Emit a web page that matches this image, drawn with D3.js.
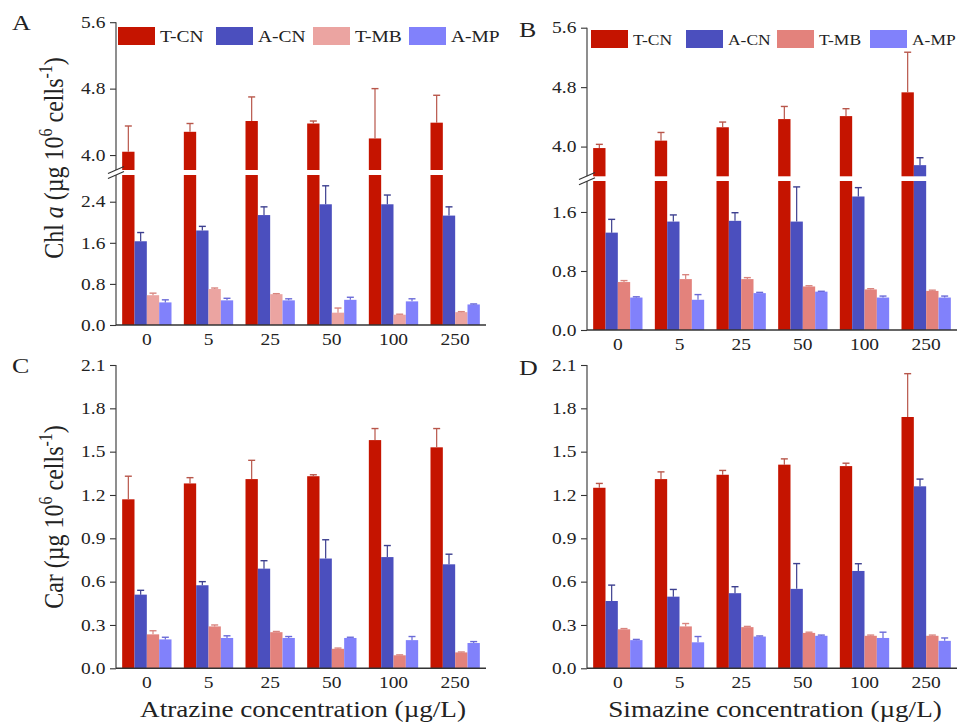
<!DOCTYPE html>
<html>
<head>
<meta charset="utf-8">
<script src="https://cdn.jsdelivr.net/npm/d3@7"></script>
<style>
  body { margin: 0; background: #fff; }
  svg text { font-family: "Liberation Serif", "Times New Roman", serif; fill: #222; }
</style>
</head>
<body>
<svg id="chart" width="959" height="727"></svg>
<script>
// categories and series
var categories = ["0", "5", "25", "50", "100", "250"];
var seriesNames = ["T-CN", "A-CN", "T-MB", "A-MP"];

// Chl a, atrazine (panel A) - rows follow seriesNames
var chlAtrazineMean = [
  [4.04, 4.28, 4.41, 4.38, 4.20, 4.39],
  [1.63, 1.84, 2.14, 2.35, 2.35, 2.13],
  [0.58, 0.70, 0.60, 0.24, 0.20, 0.25],
  [0.44, 0.48, 0.48, 0.49, 0.46, 0.40]
];
var chlAtrazineErr = [
  [0.31, 0.10, 0.29, 0.03, 0.60, 0.33],
  [0.17, 0.08, 0.16, 0.36, 0.18, 0.17],
  [0.04, 0.02, 0.01, 0.09, 0.01, 0.01],
  [0.05, 0.04, 0.03, 0.05, 0.05, 0.01]
];

// Chl a, simazine (panel B)
var chlSimazineMean = [
  [3.98, 4.08, 4.26, 4.37, 4.41, 4.73],
  [1.32, 1.47, 1.48, 1.47, 1.81, 3.75],
  [0.65, 0.69, 0.69, 0.59, 0.55, 0.53],
  [0.44, 0.41, 0.50, 0.52, 0.44, 0.44]
];
var chlSimazineErr = [
  [0.05, 0.11, 0.07, 0.17, 0.10, 0.54],
  [0.18, 0.09, 0.11, 0.47, 0.12, 0.10],
  [0.02, 0.06, 0.02, 0.01, 0.01, 0.01],
  [0.01, 0.07, 0.01, 0.005, 0.02, 0.02]
];

// Car, atrazine (panel C)
var carAtrazineMean = [
  [1.17, 1.28, 1.31, 1.33, 1.58, 1.53],
  [0.51, 0.575, 0.69, 0.76, 0.77, 0.72],
  [0.235, 0.29, 0.25, 0.135, 0.09, 0.11],
  [0.20, 0.21, 0.21, 0.21, 0.195, 0.175]
];
var carAtrazineErr = [
  [0.16, 0.04, 0.13, 0.01, 0.08, 0.13],
  [0.03, 0.025, 0.055, 0.13, 0.08, 0.07],
  [0.025, 0.01, 0.005, 0.005, 0.003, 0.003],
  [0.015, 0.015, 0.01, 0.005, 0.025, 0.01]
];

// Car, simazine (panel D)
var carSimazineMean = [
  [1.25, 1.31, 1.34, 1.41, 1.40, 1.74],
  [0.466, 0.496, 0.52, 0.55, 0.674, 1.26],
  [0.27, 0.29, 0.285, 0.245, 0.225, 0.225],
  [0.195, 0.18, 0.22, 0.225, 0.21, 0.19]
];
var carSimazineErr = [
  [0.03, 0.05, 0.03, 0.04, 0.02, 0.30],
  [0.11, 0.05, 0.045, 0.175, 0.05, 0.05],
  [0.005, 0.02, 0.005, 0.005, 0.005, 0.005],
  [0.005, 0.04, 0.004, 0.005, 0.04, 0.02]
];

// tick labels
var chlAtrazineLowTicks = [0, 0.8, 1.6, 2.4];
var chlSimazineLowTicks = [0, 0.8, 1.6];
var chlHighTicks = [4.0, 4.8, 5.6];
var carTicks = [0, 0.3, 0.6, 0.9, 1.2, 1.5, 1.8, 2.1];

var colorsA = ["#c51400", "#4b4fbe", "#eba4a1", "#8181fb"];
var colorsB = ["#c51400", "#4b4fbe", "#e3827c", "#8181fb"];
var errColors = ["#b8564a", "#3c3f8f", "#d9857f", "#6a6ad8"];

// the original figure is a bit wider than tall, so text is stretched sideways
var SX = 1.18;

var svg = d3.select("#chart");
svg.append("rect").attr("width", 959).attr("height", 727).attr("fill", "#fff");

function wideText(parent, x, y, size) {
  return parent.append("text")
    .attr("transform", "translate(" + x + "," + y + ") scale(" + SX + ",1)")
    .style("font-size", size + "px");
}

function drawPanel(cfg) {
  var g = svg.append("g");
  var x0 = d3.scaleBand().domain(categories).range(cfg.xRange)
    .paddingInner(0.2).paddingOuter(0.1);
  var x1 = d3.scaleBand().domain(seriesNames).range([0, x0.bandwidth()]);

  var low = d3.scaleLinear().domain(cfg.lowDomain).range(cfg.lowRange);
  var high = cfg.highDomain ? d3.scaleLinear().domain(cfg.highDomain).range(cfg.highRange) : null;
  var axisX = cfg.xRange[0];

  // bars
  seriesNames.forEach(function(s, si) {
    var means = cfg.mean[si], errs = cfg.err[si];
    categories.forEach(function(c, ci) {
      var v = means[ci], e = errs[ci];
      var bx = x0(c) + x1(s), bw = x1.bandwidth();
      var topY, eY;
      if (high && v > cfg.highDomain[0]) {
        g.append("rect").attr("x", bx).attr("width", bw)
          .attr("y", low(cfg.lowDomain[1])).attr("height", low(0) - low(cfg.lowDomain[1]))
          .attr("fill", cfg.colors[si]);
        g.append("rect").attr("x", bx).attr("width", bw)
          .attr("y", high(v)).attr("height", high(cfg.highDomain[0]) - high(v))
          .attr("fill", cfg.colors[si]);
        topY = high(v);
        eY = high(v + e);
      } else {
        g.append("rect").attr("x", bx).attr("width", bw)
          .attr("y", low(v)).attr("height", low(0) - low(v))
          .attr("fill", cfg.colors[si]);
        topY = low(v);
        eY = low(v + e);
      }
      var cx = bx + bw / 2;
      g.append("line").attr("x1", cx).attr("x2", cx).attr("y1", topY).attr("y2", eY)
        .attr("stroke", errColors[si]).attr("stroke-width", 1.2);
      g.append("line").attr("x1", cx - 3.5).attr("x2", cx + 3.5).attr("y1", eY).attr("y2", eY)
        .attr("stroke", errColors[si]).attr("stroke-width", 1.4);
    });
  });

  // y axes
  g.append("g").attr("transform", "translate(" + axisX + ",0)")
    .call(d3.axisLeft(low).tickValues(cfg.lowTicks).tickFormat(d3.format(".1f")).tickSize(6).tickPadding(3));
  if (high) {
    g.append("g").attr("transform", "translate(" + axisX + ",0)")
      .call(d3.axisLeft(high).tickValues(chlHighTicks).tickFormat(d3.format(".1f")).tickSize(6).tickPadding(3));
  }
  g.selectAll(".domain").remove();
  g.selectAll(".tick line").attr("stroke", "#333").attr("stroke-width", 1.1);
  g.selectAll(".tick text").style("font-size", "16.5px").style("font-family", "Liberation Serif")
    .attr("fill", "#222").attr("transform", "scale(" + SX + ",1)");

  // axis lines
  if (high) {
    g.append("line").attr("x1", axisX).attr("x2", axisX).attr("y1", cfg.lowRange[0]).attr("y2", cfg.lowRange[1])
      .attr("stroke", "#444").attr("stroke-width", 1.2);
    g.append("line").attr("x1", axisX).attr("x2", axisX).attr("y1", cfg.highRange[0]).attr("y2", cfg.highRange[1])
      .attr("stroke", "#444").attr("stroke-width", 1.2);
    var gy = (cfg.highRange[0] + cfg.lowRange[1]) / 2;
    [-2.6, 2.6].forEach(function(o) {
      g.append("line").attr("x1", axisX - 8).attr("y1", gy + o + 3.5)
        .attr("x2", axisX + 8).attr("y2", gy + o - 3.5)
        .attr("stroke", "#333").attr("stroke-width", 1.1);
    });
  } else {
    g.append("line").attr("x1", axisX).attr("x2", axisX).attr("y1", cfg.lowRange[0]).attr("y2", cfg.lowRange[1])
      .attr("stroke", "#444").attr("stroke-width", 1.2);
  }

  // x axis
  var xa = g.append("g").attr("transform", "translate(0," + cfg.lowRange[0] + ")")
    .call(d3.axisBottom(x0).tickSize(0).tickPadding(8));
  xa.select(".domain").remove();
  xa.selectAll(".tick text").style("font-size", "16.5px").style("font-family", "Liberation Serif")
    .attr("fill", "#222").attr("transform", "scale(" + SX + ",1)");
  g.append("line").attr("x1", axisX).attr("x2", cfg.xRange[1]).attr("y1", cfg.lowRange[0]).attr("y2", cfg.lowRange[0])
    .attr("stroke", "#333").attr("stroke-width", 1.4);

  // panel letter
  wideText(g, cfg.letterPos[0], cfg.letterPos[1], 22).text(cfg.letter);

  // legend
  if (cfg.legendX) {
    seriesNames.forEach(function(s, si) {
      g.append("rect").attr("x", cfg.legendX[si]).attr("y", cfg.legendY)
        .attr("width", 37).attr("height", 18).attr("fill", cfg.colors[si]);
      wideText(g, cfg.legendX[si] + 42, cfg.legendY + 15, cfg.legendSize).text(s);
    });
  }

  // y title
  if (cfg.yTitle) {
    var t = g.append("text")
      .attr("transform", "translate(" + cfg.yTitlePos[0] + "," + cfg.yTitlePos[1] + ") scale(" + SX + ",1) rotate(-90)")
      .attr("text-anchor", "middle").style("font-size", "24px");
    t.append("tspan").text(cfg.yTitle);
    if (cfg.yTitleItalic) t.append("tspan").style("font-style", "italic").text(cfg.yTitleItalic);
    t.append("tspan").text(" (\u00b5g 10");
    t.append("tspan").attr("dy", -9).style("font-size", "16px").text("6");
    t.append("tspan").attr("dy", 9).text(" cells");
    t.append("tspan").attr("dy", -9).style("font-size", "16px").text("-1");
    t.append("tspan").attr("dy", 9).text(")");
  }

  if (cfg.xTitle) {
    wideText(g, cfg.xTitlePos[0], cfg.xTitlePos[1], 23)
      .attr("text-anchor", "middle").text(cfg.xTitle);
  }
}

drawPanel({
  letter: "A", letterPos: [12, 30],
  xRange: [116, 486],
  lowDomain: [0, 2.92], lowRange: [325, 175],
  highDomain: [3.82, 5.6], highRange: [170, 22.2],
  lowTicks: chlAtrazineLowTicks,
  mean: chlAtrazineMean, err: chlAtrazineErr, colors: colorsA,
  legendX: [118, 216, 313, 409], legendY: 27, legendSize: 16.5,
  yTitle: "Chl ", yTitleItalic: "a", yTitlePos: [63, 158]
});

drawPanel({
  letter: "B", letterPos: [519, 37],
  xRange: [587, 957],
  lowDomain: [0, 2.02], lowRange: [330, 181],
  highDomain: [3.6, 5.6], highRange: [176.3, 27.7],
  lowTicks: chlSimazineLowTicks,
  mean: chlSimazineMean, err: chlSimazineErr, colors: colorsB,
  legendX: [591, 686, 777, 870], legendY: 30, legendSize: 14.8
});

drawPanel({
  letter: "C", letterPos: [12, 373],
  xRange: [116, 486],
  lowDomain: [0, 2.1], lowRange: [668.3, 365],
  lowTicks: carTicks,
  mean: carAtrazineMean, err: carAtrazineErr, colors: colorsB,
  yTitle: "Car", yTitlePos: [63, 517],
  xTitle: "Atrazine concentration (\u00b5g/L)", xTitlePos: [303, 717]
});

drawPanel({
  letter: "D", letterPos: [519, 375],
  xRange: [587, 957],
  lowDomain: [0, 2.1], lowRange: [668.3, 365],
  lowTicks: carTicks,
  mean: carSimazineMean, err: carSimazineErr, colors: colorsB,
  xTitle: "Simazine concentration (\u00b5g/L)", xTitlePos: [775, 717]
});
</script>
</body>
</html>
